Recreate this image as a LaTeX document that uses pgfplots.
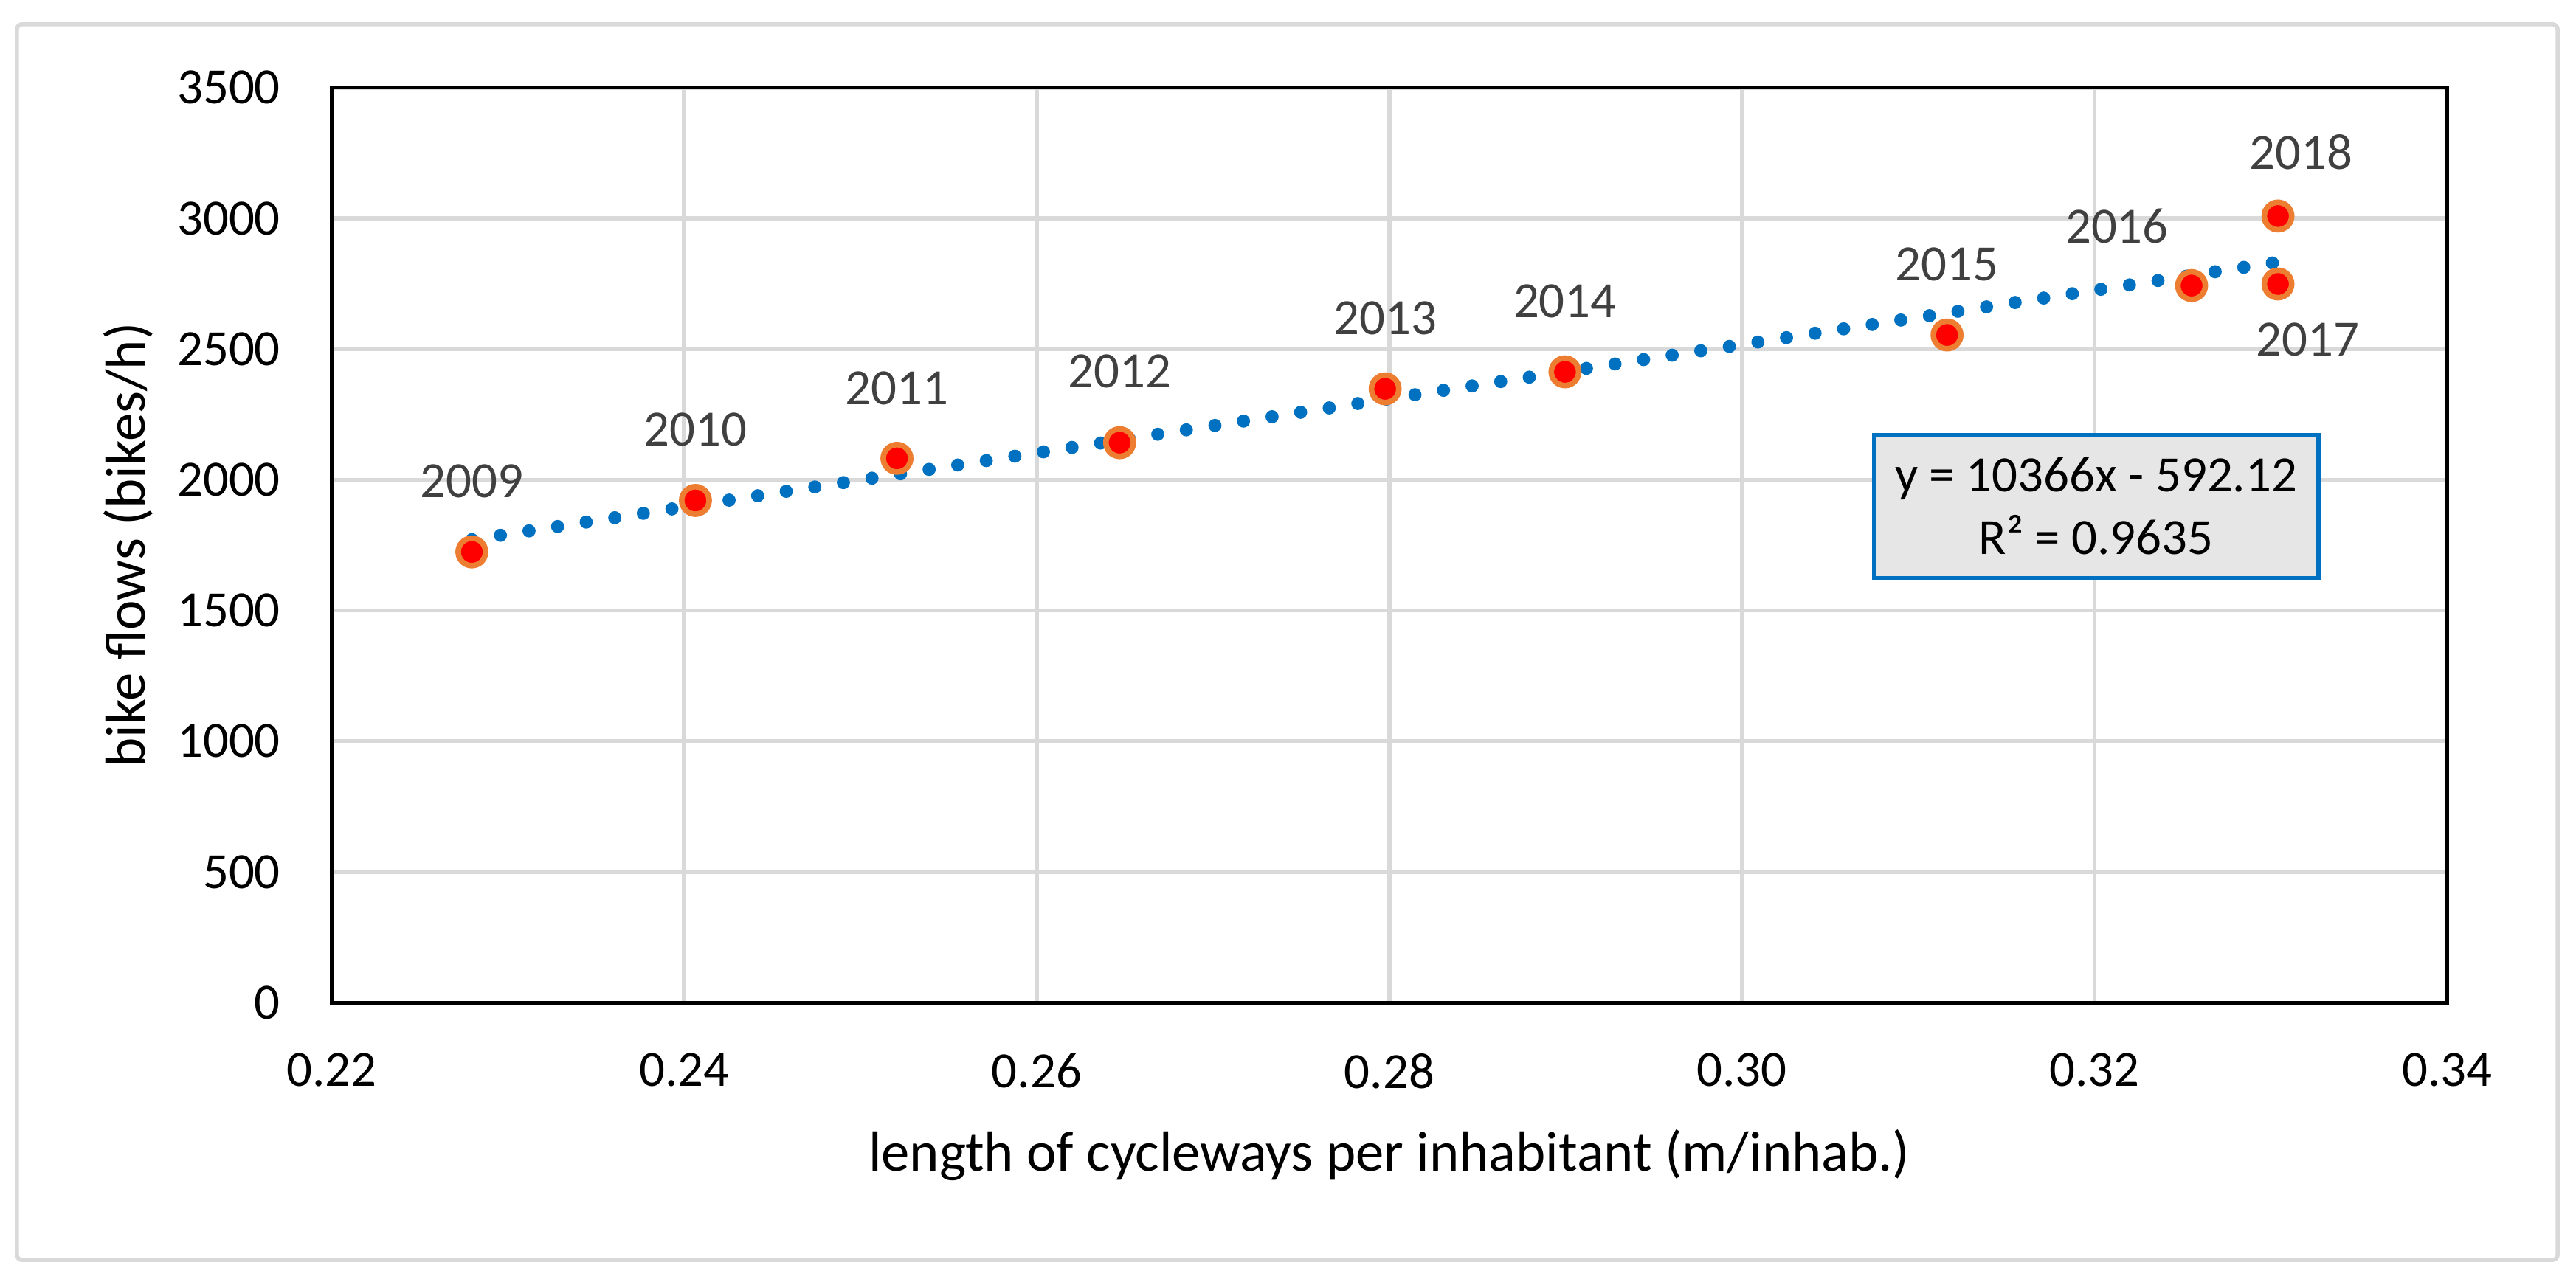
\documentclass[border=0pt]{standalone}
\usepackage{fontspec}
\setmainfont{Carlito}
\usepackage{pgfplots}
\pgfplotsset{compat=1.18}
\usepackage{pgfplotstable}
\usetikzlibrary{calc}
\definecolor{gridgray}{HTML}{D9D9D9}
\definecolor{mkred}{HTML}{FF0000}
\definecolor{mkorange}{HTML}{ED7D31}
\definecolor{trendblue}{HTML}{0070C0}
\definecolor{labgray}{HTML}{404040}
\definecolor{boxgray}{HTML}{E7E6E6}

\pgfplotstableread{
x y lab dx dy
0.22796 1724 2009 0 4.29
0.24064 1921 2010 0 4.30
0.25207 2082 2011 0 4.27
0.26470 2142 2012 0 4.33
0.27976 2348 2013 0 4.31
0.28996 2413 2014 0 4.28
0.31163 2554 2015 0 4.32
0.32550 2743 2016 -4.54 3.64
0.33040 2749 2017 1.8 -3.38
0.33040 3009 2018 1.4 3.91
}\pts

\begin{document}
\begin{tikzpicture}
\path[use as bounding box] (0,0) rectangle (156.8mm,78.06mm);
\draw[gridgray, line width=0.25mm, rounded corners=0.3mm] (1.03mm,1.34mm) rectangle (155.68mm,76.58mm);
\begin{axis}[
  at={(20.18mm,17.01mm)}, anchor=south west,
  scale only axis, width=128.78mm, height=55.71mm,
  xmin=0.22, xmax=0.34, ymin=0, ymax=3500,
  xtick={0.22,0.24,0.26,0.28,0.30,0.32,0.34},
  xticklabels={0.22,0.24,0.26,0.28,0.30,0.32,0.34},
  ytick={0,500,1000,1500,2000,2500,3000,3500},
  yticklabels={0,500,1000,1500,2000,2500,3000,3500},
  /pgf/number format/assume math mode=true,
  grid=major, grid style={gridgray, line width=0.24mm},
  axis line style={black, line width=0.21mm},
  major tick length=0pt, tick style={draw=none},
  ticklabel style={font=\fontsize{8.8}{10}\selectfont, inner sep=0pt, text=black},
  xticklabel style={anchor=north, yshift=-3.03mm},
  yticklabel style={anchor=east, xshift=-3.05mm},
  xlabel={length of cycleways per inhabitant (m/inhab.)},
  ylabel={bike flows (bikes/h)},
  label style={font=\fontsize{9.8}{11}\selectfont, inner sep=0pt},
  xlabel style={at={($(rel axis cs:0.5,0)+(0,-10.25mm)$)}, anchor=base},
  ylabel style={at={($(rel axis cs:0,0.5)+(-11.37mm,0)$)}, anchor=base, rotate=0},
  clip=false,
]
\addplot[only marks, mark=*, mark size=0.835mm,
  mark options={fill=mkred, draw=mkorange, line width=0.34mm}]
  table[x=x, y=y] {\pts};
\addplot[trendblue, line width=0.8mm, line cap=round, dash pattern=on 0pt off 1.76mm]
  coordinates {(0.22796,1770.91) (0.3304,2832.81)};
\addplot[draw=none, mark=none, nodes near coords, point meta=explicit symbolic,
  visualization depends on={\thisrow{dx}\as\dx},
  visualization depends on={\thisrow{dy}\as\dy},
  nodes near coords style={anchor=center, xshift=\dx mm, yshift=\dy mm,
    text=labgray, font=\fontsize{8.8}{10}\selectfont, inner sep=0pt}]
  table[x=x, y=y, meta=lab] {\pts};
\node[draw=trendblue, line width=0.23mm, fill=boxgray, minimum width=27.08mm,
  minimum height=8.71mm, inner sep=0pt, align=center,
  font=\fontsize{8.8}{10.83}\selectfont] at (axis cs:0.32008,1899)
  {y = 10366x - 592.12\\R² = 0.9635};
\end{axis}
\end{tikzpicture}
\end{document}
